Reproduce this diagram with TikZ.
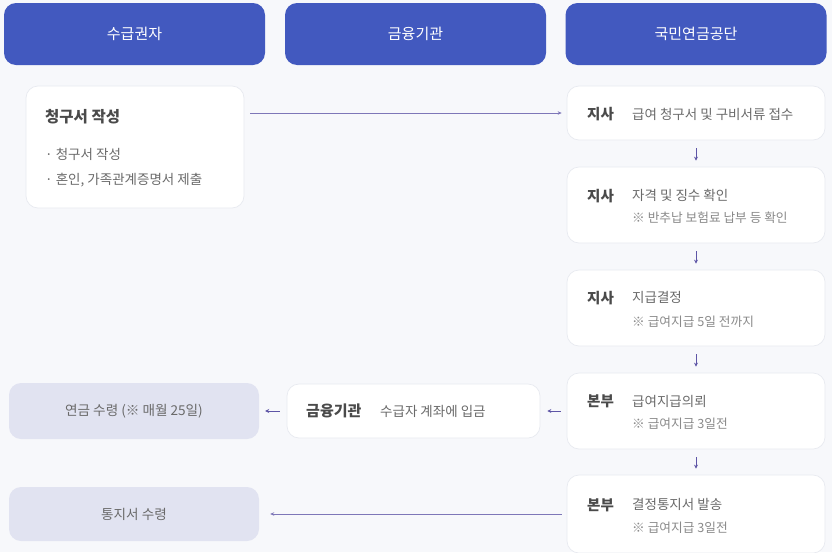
\documentclass[tikz,border=0pt]{standalone}
\usepackage{fontspec}
\setmainfont{Noto Sans CJK KR}
\usetikzlibrary{arrows.meta,positioning}
\definecolor{bg}{HTML}{F7F8FB}
\definecolor{hdr}{HTML}{4259BF}
\definecolor{soft}{HTML}{E1E3F1}
\definecolor{edge}{HTML}{E8EAF0}
\definecolor{arr}{HTML}{5E55A6}
\definecolor{lbl}{HTML}{4A4A4A}
\definecolor{txt}{HTML}{6A6A6A}
\definecolor{nte}{HTML}{8A8A8A}
\tikzset{
  hdrbox/.style={fill=hdr, rounded corners=12pt, minimum width=261pt, minimum height=62pt, text=white, font=\fontsize{15}{17}\selectfont, inner sep=0pt},
  cardbox/.style={fill=white, draw=edge, line width=0.7pt, rounded corners=12pt, inner sep=0pt},
  softbox/.style={fill=soft, rounded corners=12pt, inner sep=0pt, text=txt, font=\fontsize{13.6}{15}\selectfont},
  labeltext/.style={anchor=west, inner sep=0pt, text=lbl, font=\fontsize{14.5}{16}\selectfont\bfseries},
  desctext/.style={anchor=west, inner sep=0pt, text=txt, font=\fontsize{13.5}{15}\selectfont},
  notetext/.style={anchor=west, inner sep=0pt, text=nte, font=\fontsize{12.7}{14}\selectfont},
  flowarrow/.style={draw=arr, line width=0.9pt, -{Stealth[length=4pt,width=4pt]}},
  longline/.style={draw=arr!80, line width=1pt, -{Stealth[length=4pt,width=3.5pt]}}
}
\begin{document}
\begin{tikzpicture}[x=1pt,y=-1pt]
\fill[bg] (0,0) rectangle (832,552);
\useasboundingbox (0,0) rectangle (832,552);
% headers
\node[hdrbox] (h1) at (134.5,34) {수급권자};
\node[hdrbox] (h2) at (415.5,34) {금융기관};
\node[hdrbox] (h3) at (696,34) {국민연금공단};
% left card
\node[cardbox, minimum width=218pt, minimum height=122pt] (claim) at (135,147) {};
\node[labeltext, font=\fontsize{15.5}{17}\selectfont\bfseries] (claimt) at (45,117) {청구서 작성};
\node[desctext] (claim1) at (45,154) {· 청구서 작성};
\node[desctext] (claim2) at (45,180) {· 혼인, 가족관계증명서 제출};
% right column
\node[cardbox, minimum width=258pt, minimum height=54pt] (A) at (696,113) {};
\node[labeltext] (Al) at (587,114) {지사};
\node[desctext] (Ad) at (632,114) {급여 청구서 및 구비서류 접수};

\node[cardbox, minimum width=258pt, minimum height=76pt] (B) at (696,205) {};
\node[labeltext] (Bl) at (587,196) {지사};
\node[desctext] (Bd) at (632,195) {자격 및 징수 확인};
\node[notetext] (Bn) at (632,218) {※ 반추납 보험료 납부 등 확인};

\node[cardbox, minimum width=258pt, minimum height=76pt] (C) at (696,308) {};
\node[labeltext] (Cl) at (587,298) {지사};
\node[desctext] (Cd) at (632,297) {지급결정};
\node[notetext] (Cn) at (632,322) {※ 급여지급 5일 전까지};

\node[cardbox, minimum width=258pt, minimum height=76pt] (D) at (696,411) {};
\node[labeltext] (Dl) at (587,401) {본부};
\node[desctext] (Dd) at (632,401) {급여지급의뢰};
\node[notetext] (Dn) at (632,424) {※ 급여지급 3일전};

\node[cardbox, minimum width=258pt, minimum height=78pt] (E) at (696,514) {};
\node[labeltext] (El) at (587,505) {본부};
\node[desctext] (Ed) at (632,504) {결정통지서 발송};
\node[notetext] (En) at (632,528) {※ 급여지급 3일전};
% middle
\node[cardbox, minimum width=253pt, minimum height=54pt] (bank) at (413.5,411) {};
\node[labeltext, font=\fontsize{15}{17}\selectfont\bfseries] (bankl) at (306,411) {금융기관};
\node[desctext] (bankd) at (380,411) {수급자 계좌에 입금};
% left soft boxes
\node[softbox, minimum width=250pt, minimum height=56pt] (pay) at (134,411) {연금 수령 (※ 매월 25일)};
\node[softbox, minimum width=250pt, minimum height=54pt] (note) at (134,514) {통지서 수령};
% connectors
\draw[longline] ([xshift=6pt]claim.east |- A.west) -- ([xshift=-5pt]A.west);
\draw[flowarrow, shorten <=8pt, shorten >=6pt] (A.south) -- (B.north);
\draw[flowarrow, shorten <=8pt, shorten >=6pt] (B.south) -- (C.north);
\draw[flowarrow, shorten <=8pt, shorten >=6pt] (C.south) -- (D.north);
\draw[flowarrow, shorten <=8pt, shorten >=6pt] (D.south) -- (E.north);
\draw[flowarrow, shorten <=6pt, shorten >=7pt] (D.west) -- (bank.east);
\draw[flowarrow, shorten <=7pt, shorten >=6pt] (bank.west) -- (pay.east);
\draw[longline, shorten <=5pt, shorten >=11pt] (E.west) -- (note.east);
\end{tikzpicture}
\end{document}
